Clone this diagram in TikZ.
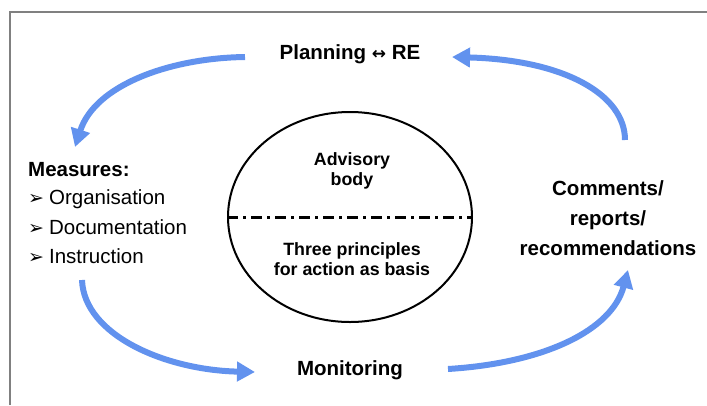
\documentclass[tikz,border=0pt]{standalone}
\usepackage{fontspec}
\setmainfont{Liberation Sans}
\newfontfamily\symfont{DejaVu Sans}
\usetikzlibrary{arrows.meta,shapes.geometric}
\definecolor{cycleblue}{RGB}{98,146,238}
\newcommand{\bul}{{\symfont\fontsize{19}{19}\selectfont ➢}\hspace{5pt}}
\begin{document}
\begin{tikzpicture}[x=1pt,y=-1pt,
    lbl/.style={font=\fontsize{20.5}{30}\selectfont\bfseries, align=center, inner sep=0pt},
    item/.style={font=\fontsize{20.5}{30}\selectfont, anchor=west, inner sep=0pt},
    inner/.style={font=\fontsize{17.8}{20}\selectfont\bfseries, align=center, inner sep=0pt},
    cyc/.style={cycleblue, line width=6pt, -{Triangle[length=18pt,width=19pt]}}]
    \useasboundingbox (0,0) rectangle (707,405);
    \draw[gray, line width=1.5pt] (10,405) -- (10,12) -- (707,12);
    % ring of stages
    \node[lbl] (plan) at (350,54) {Planning {\symfont\fontsize{17}{17}\selectfont ↔} RE};
    \node[lbl, anchor=west] (meas) at (28,170) {Measures:};
    \node[item] (org) at (28,199) {\bul Organisation};
    \node[item] (doc) at (28,227) {\bul Documentation};
    \node[item] (ins) at (28,256) {\bul Instruction};
    \node[lbl] (mon) at (350,370) {Monitoring};
    \node[lbl] (comm) at (608,218) {Comments/\\reports/\\recommendations};
    % advisory body
    \node[draw, ellipse, line width=2pt, minimum width=244pt, minimum height=210pt] (body) at (350,217) {};
    \draw[line width=3pt, dash pattern=on 11pt off 5pt on 3pt off 5pt] (body.west) -- (body.east);
    \node[inner] (adv) at (352,171) {Advisory\\body};
    \node[inner] (thr) at (352,259) {Three principles\\for action as basis};
    % arrows
    \coordinate (p1) at (245,57);
    \coordinate (p2) at (452,57);
    \coordinate (m1) at (75,147);
    \coordinate (m2) at (82,280);
    \coordinate (o1) at (255,372);
    \coordinate (o2) at (448,369);
    \coordinate (c1) at (628,270);
    \coordinate (c2) at (625,140);
    \draw[cyc] (p1) .. controls (170,58) and (95,85) .. (m1);
    \draw[cyc] (m2) .. controls (84,335) and (165,370) .. (o1);
    \draw[cyc] (o2) .. controls (545,363) and (612,330) .. (c1);
    \draw[cyc] (c2) .. controls (625,95) and (565,60) .. (p2);
\end{tikzpicture}
\end{document}
